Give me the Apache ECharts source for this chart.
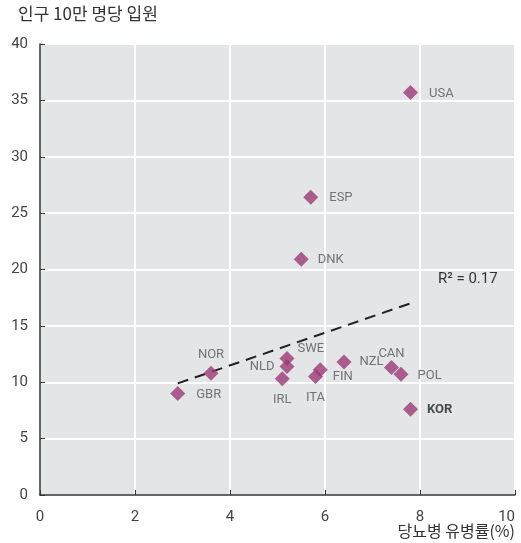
<!DOCTYPE html>
<html><head><meta charset="utf-8">
<script src="https://cdn.jsdelivr.net/npm/echarts@6/dist/echarts.min.js"></script>
<style>html,body{margin:0;padding:0;background:#fff;overflow:hidden}#c{width:521px;height:543px}</style>
</head><body><div id="c"></div>
<script>
const countries = ['USA','ESP','DNK','NOR','SWE','NLD','IRL','ITA','FIN','NZL','CAN','POL','KOR','GBR'];
const diabetes = [7.8,5.7,5.5,3.6,5.2,5.2,5.1,5.8,5.9,6.4,7.4,7.6,7.8,2.9];
const admissions = [35.7,26.4,20.9,10.8,12.1,11.4,10.3,10.5,11.1,11.8,11.3,10.7,7.6,9.0];
const trendX = [2.9,7.8];
const trendY = [9.9,17.0];
const xTicks = [0,2,4,6,8,10];
const yTicks = [0,5,10,15,20,25,30,35,40];

const FONT = '"Liberation Sans Narrow","Arial Narrow","Roboto",sans-serif';
const labelPos = {
  USA:{position:'right',offset:[6,1]},
  ESP:{position:'right',offset:[6,0]},
  DNK:{position:'right',offset:[4,0]},
  NOR:{position:'top',offset:[0,1]},
  SWE:{position:'right',offset:[-2,-10]},
  NLD:{position:'left',offset:[0,0]},
  IRL:{position:'bottom',offset:[0,2]},
  ITA:{position:'bottom',offset:[0,2]},
  FIN:{position:'right',offset:[0,7]},
  NZL:{position:'right',offset:[3,0]},
  CAN:{position:'top',offset:[0,5]},
  POL:{position:'right',offset:[4,1]},
  KOR:{position:'right',offset:[4,0],fontWeight:'bold',color:'#222'},
  GBR:{position:'right',offset:[6,1]}
};
const pts = countries.map((c,i)=>({
  value:[diabetes[i],admissions[i]],
  name:c,
  label:Object.assign({show:true,formatter:c,color:'#555',fontSize:13,fontFamily:FONT},labelPos[c])
}));

const chart = echarts.init(document.getElementById('c'),null,{renderer:'canvas'});
chart.setOption({
  animation:false,
  textStyle:{fontFamily:FONT},
  grid:{left:40,right:6,top:44,bottom:48,show:true,backgroundColor:'#e4e5e7',borderWidth:0,
        containLabel:false,outerBoundsMode:'none'},
  graphic:[
    {type:'text',left:18,top:5,z:100,style:{text:'인구 10만 명당 입원',font:'17px "Noto Sans CJK KR",sans-serif',fill:'#333'}},
    {type:'text',right:6,top:523,z:100,style:{text:'당뇨병 유병률(%)',font:'16px "Noto Sans CJK KR",sans-serif',fill:'#333'}},
    {type:'text',left:438,top:272,z:100,style:{text:'R² = 0.17',font:'15px '+FONT,fill:'#333'}}
  ],
  xAxis:{type:'value',min:xTicks[0],max:xTicks[xTicks.length-1],interval:2,
    axisLine:{show:true,lineStyle:{color:'#333',width:1.5}},
    axisTick:{show:true,inside:true,length:5,lineStyle:{color:'#333'}},
    axisLabel:{color:'#444',fontSize:15,margin:15,fontFamily:FONT,alignMaxLabel:'right'},
    splitLine:{show:true,lineStyle:{color:'#fff',width:2}}},
  yAxis:{type:'value',min:yTicks[0],max:yTicks[yTicks.length-1],interval:5,
    axisLine:{show:true,lineStyle:{color:'#333',width:1.5}},
    axisTick:{show:true,inside:true,length:5,lineStyle:{color:'#333'}},
    axisLabel:{color:'#444',fontSize:15,margin:12,fontFamily:FONT},
    splitLine:{show:true,lineStyle:{color:'#fff',width:2}}},
  series:[
    {type:'line',data:trendX.map((x,i)=>[x,trendY[i]]),symbol:'none',
     lineStyle:{color:'#222',width:2,type:[11,7]},z:2},
    {type:'scatter',data:pts,symbol:'diamond',symbolSize:[15,15],
     itemStyle:{color:'#9b3a76'},z:3}
  ]
});
</script></body></html>
